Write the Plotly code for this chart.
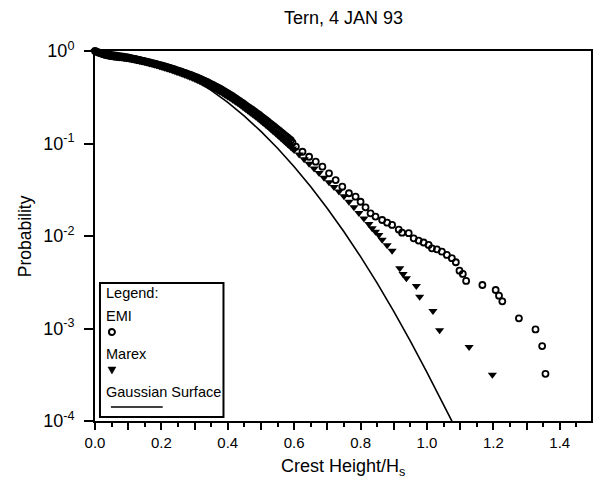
import plotly.graph_objects as go

# ---------------- data ----------------
# EMI: crest height / Hs and log10(exceedance probability)
emi_x = [0.00, 0.01, 0.02, 0.03, 0.04, 0.05, 0.06, 0.07, 0.08, 0.09,
         0.10, 0.11, 0.12, 0.13, 0.14, 0.15, 0.16, 0.17, 0.18, 0.19,
         0.20, 0.21, 0.22, 0.23, 0.24, 0.25, 0.26, 0.27, 0.28, 0.29,
         0.30, 0.31, 0.32, 0.33, 0.34, 0.35, 0.36, 0.37, 0.38, 0.39,
         0.40, 0.41, 0.42, 0.43, 0.44, 0.45, 0.46, 0.47, 0.48, 0.49,
         0.50, 0.51, 0.52, 0.53, 0.54, 0.55, 0.56, 0.57, 0.58, 0.59,
         0.605, 0.625, 0.645, 0.665, 0.685, 0.705, 0.725, 0.745, 0.765, 0.785,
         0.800, 0.815, 0.830, 0.845, 0.865, 0.880, 0.895, 0.915, 0.925, 0.945,
         0.960, 0.975, 0.990, 1.005, 1.015, 1.030, 1.045, 1.060, 1.075, 1.087,
         1.098, 1.108, 1.118, 1.167, 1.207, 1.217, 1.227, 1.277, 1.327, 1.347,
         1.357]
emi_log10p = [0.000, -0.015, -0.028, -0.040, -0.048, -0.054, -0.059, -0.063, -0.067, -0.071,
              -0.076, -0.082, -0.089, -0.096, -0.104, -0.112, -0.120, -0.129, -0.138, -0.147,
              -0.157, -0.167, -0.178, -0.189, -0.200, -0.212, -0.224, -0.236, -0.249, -0.262,
              -0.276, -0.291, -0.307, -0.323, -0.340, -0.358, -0.376, -0.395, -0.415, -0.436,
              -0.458, -0.481, -0.504, -0.528, -0.553, -0.578, -0.603, -0.628, -0.653, -0.679,
              -0.706, -0.734, -0.762, -0.790, -0.819, -0.848, -0.877, -0.906, -0.935, -0.965,
              -1.034, -1.089, -1.143, -1.197, -1.251, -1.322, -1.395, -1.467, -1.538, -1.575,
              -1.630, -1.690, -1.755, -1.790, -1.827, -1.856, -1.880, -1.930, -1.964, -1.970,
              -2.025, -2.050, -2.070, -2.097, -2.133, -2.144, -2.170, -2.205, -2.240, -2.284,
              -2.375, -2.410, -2.486, -2.530, -2.584, -2.645, -2.706, -2.890, -3.010, -3.190,
              -3.490]
# EMI: further points read inside the dense solid band (0 - 0.6)
emi_band_x = [0.005, 0.015, 0.025, 0.035, 0.045, 0.055, 0.065, 0.075, 0.085, 0.095,
              0.105, 0.115, 0.125, 0.135, 0.145, 0.155, 0.165, 0.175, 0.185, 0.195,
              0.205, 0.215, 0.225, 0.235, 0.245, 0.255, 0.265, 0.275, 0.285, 0.295,
              0.305, 0.315, 0.325, 0.335, 0.345, 0.355, 0.365, 0.375, 0.385, 0.395,
              0.405, 0.415, 0.425, 0.435, 0.445, 0.455, 0.465, 0.475, 0.485, 0.495,
              0.505, 0.515, 0.525, 0.535, 0.545, 0.555, 0.565, 0.575, 0.585, 0.595]
emi_band_log10p = [-0.008, -0.022, -0.034, -0.044, -0.051, -0.057, -0.061, -0.065, -0.069, -0.073,
                   -0.079, -0.085, -0.092, -0.100, -0.108, -0.116, -0.124, -0.133, -0.142, -0.152,
                   -0.162, -0.172, -0.183, -0.194, -0.206, -0.218, -0.230, -0.242, -0.255, -0.269,
                   -0.283, -0.299, -0.315, -0.331, -0.349, -0.367, -0.385, -0.405, -0.425, -0.447,
                   -0.469, -0.492, -0.516, -0.540, -0.565, -0.590, -0.615, -0.640, -0.666, -0.692,
                   -0.720, -0.748, -0.776, -0.804, -0.833, -0.862, -0.891, -0.920, -0.950, -0.990]

# Marex
marex_x = [0.00, 0.01, 0.02, 0.03, 0.04, 0.05, 0.06, 0.07, 0.08, 0.09,
           0.10, 0.11, 0.12, 0.13, 0.14, 0.15, 0.16, 0.17, 0.18, 0.19,
           0.20, 0.21, 0.22, 0.23, 0.24, 0.25, 0.26, 0.27, 0.28, 0.29,
           0.30, 0.31, 0.32, 0.33, 0.34, 0.35, 0.36, 0.37, 0.38, 0.39,
           0.40, 0.41, 0.42, 0.43, 0.44, 0.45, 0.46, 0.47, 0.48, 0.49,
           0.50, 0.51, 0.52, 0.53, 0.54, 0.55, 0.56, 0.57, 0.58, 0.59,
           0.600, 0.615, 0.630, 0.645, 0.660, 0.675, 0.690, 0.705, 0.720, 0.735,
           0.750, 0.765, 0.780, 0.795, 0.810, 0.825, 0.835, 0.845, 0.855, 0.865,
           0.880, 0.895, 0.918, 0.928, 0.938, 0.968, 0.978, 1.018, 1.038, 1.127,
           1.197]
marex_log10p = [0.000, -0.018, -0.031, -0.043, -0.051, -0.057, -0.062, -0.067, -0.071, -0.076,
                -0.081, -0.088, -0.095, -0.103, -0.111, -0.120, -0.129, -0.138, -0.148, -0.158,
                -0.169, -0.180, -0.192, -0.204, -0.216, -0.229, -0.242, -0.256, -0.270, -0.285,
                -0.300, -0.316, -0.333, -0.350, -0.368, -0.387, -0.406, -0.426, -0.447, -0.469,
                -0.491, -0.514, -0.538, -0.563, -0.589, -0.615, -0.642, -0.669, -0.697, -0.725,
                -0.754, -0.784, -0.814, -0.845, -0.876, -0.908, -0.940, -0.972, -1.005, -1.038,
                -1.071, -1.120, -1.170, -1.220, -1.270, -1.320, -1.370, -1.420, -1.470, -1.520,
                -1.570, -1.630, -1.690, -1.750, -1.810, -1.870, -1.917, -1.953, -1.990, -2.040,
                -2.100, -2.160, -2.350, -2.410, -2.457, -2.540, -2.656, -2.810, -3.020, -3.200,
                -3.500]
# Marex: further points read inside the dense solid band (0 - 0.6)
marex_band_x = [0.005, 0.015, 0.025, 0.035, 0.045, 0.055, 0.065, 0.075, 0.085, 0.095,
                0.105, 0.115, 0.125, 0.135, 0.145, 0.155, 0.165, 0.175, 0.185, 0.195,
                0.205, 0.215, 0.225, 0.235, 0.245, 0.255, 0.265, 0.275, 0.285, 0.295,
                0.305, 0.315, 0.325, 0.335, 0.345, 0.355, 0.365, 0.375, 0.385, 0.395,
                0.405, 0.415, 0.425, 0.435, 0.445, 0.455, 0.465, 0.475, 0.485, 0.495,
                0.505, 0.515, 0.525, 0.535, 0.545, 0.555, 0.565, 0.575, 0.585, 0.595]
marex_band_log10p = [-0.010, -0.025, -0.037, -0.047, -0.054, -0.060, -0.065, -0.069, -0.074, -0.079,
                     -0.085, -0.092, -0.099, -0.107, -0.116, -0.125, -0.134, -0.143, -0.153, -0.164,
                     -0.175, -0.186, -0.198, -0.210, -0.223, -0.236, -0.249, -0.263, -0.278, -0.293,
                     -0.308, -0.325, -0.342, -0.359, -0.378, -0.397, -0.416, -0.437, -0.458, -0.480,
                     -0.503, -0.526, -0.551, -0.576, -0.602, -0.629, -0.656, -0.683, -0.711, -0.740,
                     -0.769, -0.799, -0.830, -0.861, -0.892, -0.924, -0.956, -0.989, -1.022, -1.055]

# Gaussian surface curve
gauss_x = [0.00, 0.05, 0.10, 0.15, 0.20, 0.25, 0.30, 0.35, 0.40, 0.45,
           0.50, 0.55, 0.60, 0.65, 0.70, 0.75, 0.80, 0.85, 0.90, 0.95,
           1.00, 1.05, 1.07, 1.08]
gauss_p = [1.0, 0.980, 0.923, 0.835, 0.726, 0.607, 0.487, 0.375, 0.278, 0.198,
           0.135, 0.0889, 0.0561, 0.0340, 0.0198, 0.0111, 0.00598, 0.00309, 0.00153, 0.000731,
           0.000335, 0.000147, 0.000105, 0.0000922]

x_tick_vals = [0.0, 0.1, 0.2, 0.3, 0.4, 0.5, 0.6, 0.7, 0.8, 0.9, 1.0, 1.1, 1.2, 1.3, 1.4]
x_tick_text = ["0.0", "", "0.2", "", "0.4", "", "0.6", "", "0.8", "", "1.0", "", "1.2", "", "1.4"]
y_tick_vals = [1e-4, 1e-3, 1e-2, 1e-1, 1.0]
y_tick_text = ["10<sup>-4</sup>", "10<sup>-3</sup>", "10<sup>-2</sup>", "10<sup>-1</sup>", "10<sup>0</sup>"]

title_text = "Tern, 4 JAN 93"
x_title = "Crest Height/H<sub>s</sub>"
y_title = "Probability"
legend_title = "Legend:"
emi_name = "EMI"
marex_name = "Marex"
gauss_name = "Gaussian Surface"

# ---------------- figure ----------------
FONT = "Liberation Sans, Arial, sans-serif"
W, H = 595, 480
L, R, T, B = 95, 2, 51, 59
PW, PH = W - L - R, H - T - B


def px2paper_x(px):
    return (px - L) / PW


def px2paper_y(py):
    return (H - B - py) / PH


emi_all_x = emi_x + emi_band_x
emi_all_p = [10 ** v for v in emi_log10p + emi_band_log10p]
marex_all_x = marex_x + marex_band_x
marex_all_p = [10 ** v for v in marex_log10p + marex_band_log10p]

fig = go.Figure()
fig.add_trace(go.Scatter(x=gauss_x, y=gauss_p, mode="lines", name=gauss_name,
                         line=dict(color="black", width=1.6)))
fig.add_trace(go.Scatter(x=marex_all_x, y=marex_all_p, mode="markers", name=marex_name,
                         cliponaxis=False,
                         marker=dict(symbol="triangle-down", size=8, color="black",
                                     line=dict(width=0))))
fig.add_trace(go.Scatter(x=emi_all_x, y=emi_all_p, mode="markers", name=emi_name,
                         cliponaxis=False,
                         marker=dict(symbol="circle-open", size=6, color="black",
                                     line=dict(width=1.8, color="black"))))

fig.update_xaxes(range=[0, PW / 333.3], showgrid=False, zeroline=False,
                 showline=True, linecolor="black", linewidth=2, mirror=True,
                 ticks="outside", ticklen=7, tickwidth=1.5, tickcolor="black",
                 tickvals=x_tick_vals, ticktext=x_tick_text,
                 tickfont=dict(family=FONT, size=15, color="black"),
                 minor=dict(dtick=0.05, tick0=0, ticks="outside", ticklen=4,
                            tickwidth=1.5, tickcolor="black", showgrid=False))
fig.update_yaxes(type="log", range=[-4, 0], showgrid=False, zeroline=False,
                 showline=True, linecolor="black", linewidth=2, mirror=True,
                 ticks="outside", ticklen=9, tickwidth=1.5, tickcolor="black",
                 tickvals=y_tick_vals, ticktext=y_tick_text,
                 ticklabelstandoff=6,
                 tickfont=dict(family=FONT, size=18, color="black"))

ann = []
ann.append(dict(text=title_text, xref="paper", yref="paper", x=0.5, y=px2paper_y(18),
                xanchor="center", yanchor="middle", showarrow=False,
                font=dict(family=FONT, size=18, color="black")))
ann.append(dict(text=x_title, xref="paper", yref="paper", x=0.5, y=px2paper_y(467),
                xanchor="center", yanchor="middle", showarrow=False,
                font=dict(family=FONT, size=18, color="black")))
ann.append(dict(text=y_title, xref="paper", yref="paper", x=px2paper_x(25), y=0.5,
                xanchor="center", yanchor="middle", textangle=-90, showarrow=False,
                font=dict(family=FONT, size=17.5, color="black")))
for txt, py in [(legend_title, 293), (emi_name, 316), (marex_name, 354), (gauss_name, 392)]:
    ann.append(dict(text=txt, xref="paper", yref="paper", x=px2paper_x(104), y=px2paper_y(py),
                    xanchor="left", yanchor="middle", showarrow=False,
                    font=dict(family=FONT, size=14.5, color="black")))

shapes = [
    dict(type="rect", xref="paper", yref="paper",
         x0=px2paper_x(100), x1=px2paper_x(224), y0=px2paper_y(417), y1=px2paper_y(283),
         line=dict(color="black", width=2), fillcolor="white", layer="above"),
    dict(type="circle", xref="paper", yref="paper", xsizemode="pixel", ysizemode="pixel",
         xanchor=px2paper_x(112), yanchor=px2paper_y(332), x0=-3, x1=3, y0=-3, y1=3,
         line=dict(color="black", width=2), layer="above"),
    dict(type="path", xref="paper", yref="paper", xsizemode="pixel", ysizemode="pixel",
         xanchor=px2paper_x(112), yanchor=px2paper_y(370),
         path="M -4 3 L 4 3 L 0 -4 Z", fillcolor="black",
         line=dict(color="black", width=0.5), layer="above"),
    dict(type="line", xref="paper", yref="paper",
         x0=px2paper_x(111), x1=px2paper_x(163), y0=px2paper_y(407), y1=px2paper_y(407),
         line=dict(color="black", width=1.6), layer="above"),
]

fig.update_layout(width=W, height=H, margin=dict(l=L, r=R, t=T, b=B),
                  paper_bgcolor="white", plot_bgcolor="white", showlegend=False,
                  annotations=ann, shapes=shapes,
                  font=dict(family=FONT, color="black"))

# remove the page's default 8px body margin so the figure sits at the window's corner
fig.write_html("out.html",
               config={"displayModeBar": False},
               post_script="document.body.style.margin='0';document.body.style.overflow='hidden';")
